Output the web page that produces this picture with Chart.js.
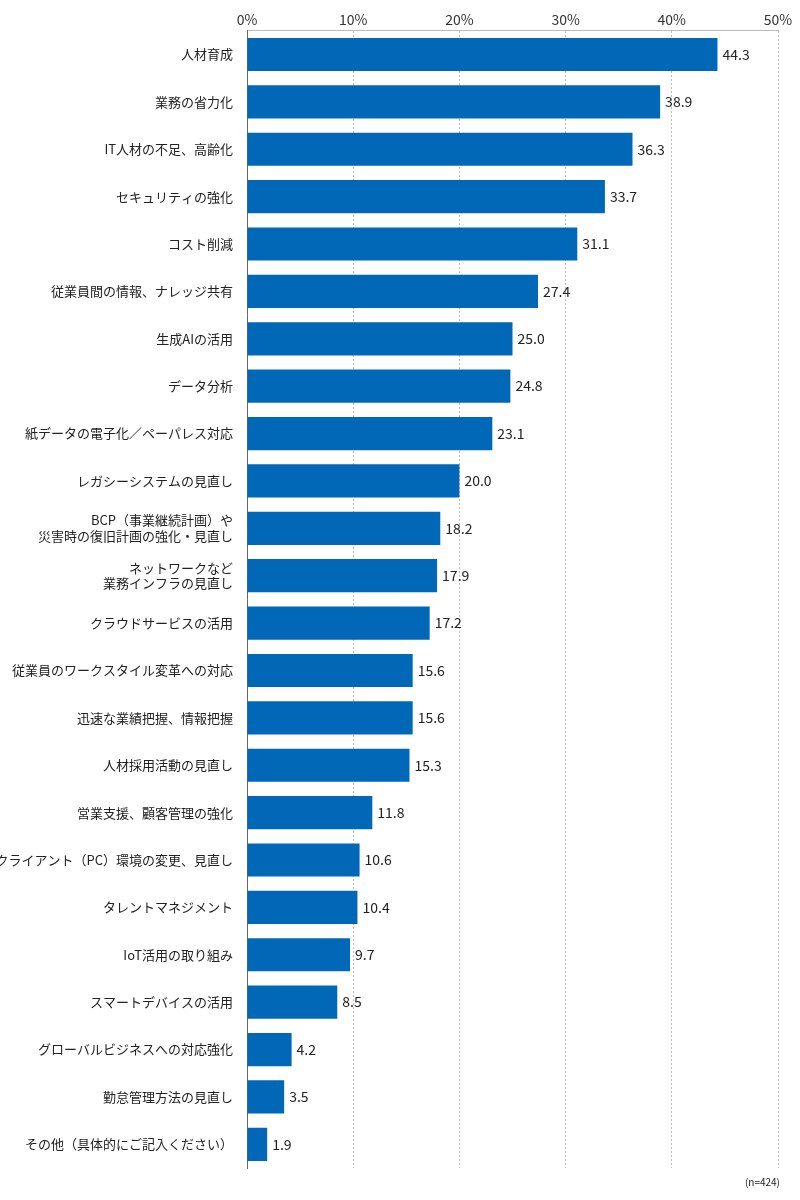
<!DOCTYPE html>
<html><head><meta charset="utf-8">
<script src="https://cdn.jsdelivr.net/npm/chart.js@4/dist/chart.umd.min.js"></script>
<style>body{margin:0;background:#fff}#wrap{width:800px;height:1200px}</style>
</head><body><div id="wrap"><canvas id="myChart"></canvas></div>
<script>
(function () {
  'use strict'

  const categories = [
    '人材育成', '業務の省力化', 'IT人材の不足、高齢化', 'セキュリティの強化', 'コスト削減',
    '従業員間の情報、ナレッジ共有', '生成AIの活用', 'データ分析', '紙データの電子化／ペーパレス対応',
    'レガシーシステムの見直し', ['BCP（事業継続計画）や', '災害時の復旧計画の強化・見直し'],
    ['ネットワークなど', '業務インフラの見直し'], 'クラウドサービスの活用',
    '従業員のワークスタイル変革への対応', '迅速な業績把握、情報把握', '人材採用活動の見直し',
    '営業支援、顧客管理の強化', 'クライアント（PC）環境の変更、見直し', 'タレントマネジメント',
    'IoT活用の取り組み', 'スマートデバイスの活用', 'グローバルビジネスへの対応強化',
    '勤怠管理方法の見直し', 'その他（具体的にご記入ください）'
  ]
  const values = [44.3, 38.9, 36.3, 33.7, 31.1, 27.4, 25.0, 24.8, 23.1, 20.0, 18.2, 17.9, 17.2,
    15.6, 15.6, 15.3, 11.8, 10.6, 10.4, 9.7, 8.5, 4.2, 3.5, 1.9]
  const tickLabels = ['0%', '10%', '20%', '30%', '40%', '50%']
  const font = "'Noto Sans CJK JP', 'Noto Sans', sans-serif"

  const valueLabels = {
    id: 'valueLabels',
    afterDatasetsDraw(chart) {
      const c = chart.ctx
      const meta = chart.getDatasetMeta(0)
      c.save()
      c.font = '14px ' + font
      c.fillStyle = '#222'
      c.textBaseline = 'middle'
      meta.data.forEach(function (bar, i) {
        c.fillText(values[i].toFixed(1), bar.x + 5, bar.y)
      })
      c.font = '10px ' + font
      c.textAlign = 'right'
      c.fillText('(n=424)', 780, 1182)
      c.restore()
    }
  }

  new Chart(document.getElementById('myChart'), {
    type: 'bar',
    data: {
      labels: categories,
      datasets: [{
        data: values,
        backgroundColor: '#0068b7',
        categoryPercentage: 0.7,
        barPercentage: 1
      }]
    },
    options: {
      indexAxis: 'y',
      responsive: true,
      maintainAspectRatio: false,
      animation: false,
      layout: { padding: { top: 8, right: 22, bottom: 32 } },
      scales: {
        x: {
          position: 'top',
          min: 0,
          max: 50,
          ticks: {
            stepSize: 10,
            color: '#333',
            font: { family: font, size: 14 },
            callback: function (v, i) { return tickLabels[i] }
          },
          grid: { color: '#bbb', lineWidth: 1, drawTicks: false, tickLength: 0 },
          border: { display: true, dash: [2, 2], color: '#bbb' }
        },
        y: {
          afterFit: function (s) { s.width = 247 },
          ticks: { color: '#222', font: { family: font, size: 13 }, padding: 6 },
          grid: { display: false },
          border: { display: true, color: '#666' }
        }
      },
      plugins: { legend: { display: false }, tooltip: { enabled: false } }
    },
    plugins: [valueLabels]
  })
})()
</script></body></html>
